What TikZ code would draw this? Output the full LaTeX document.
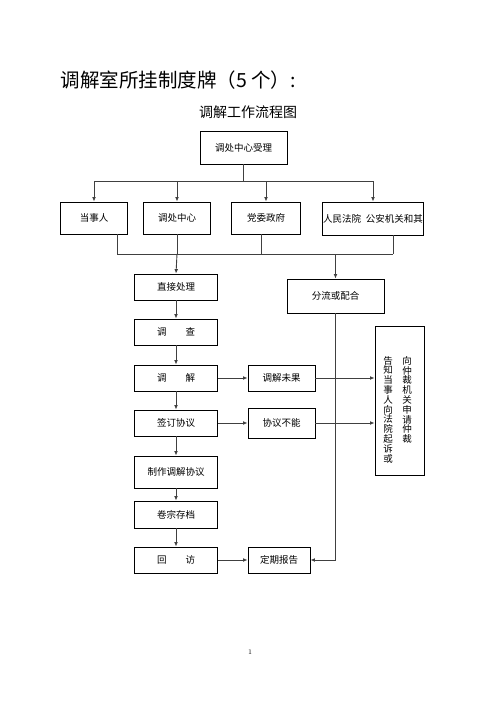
\documentclass[tikz,border=0pt]{standalone}
\usepackage{fontspec}
\newfontfamily\cjk{Noto Sans CJK SC}
\usetikzlibrary{positioning, calc, arrows.meta}

\begin{document}
\begin{tikzpicture}[x=1pt,y=-1pt,
        box/.style={draw, line width=0.8pt, inner sep=0pt,
                    font=\cjk\fontsize{9.5}{11}\selectfont},
        link/.style={draw=black!75, line width=0.9pt},
        arr/.style={link, -{Latex[length=4.5pt,width=3.8pt]}}]
        \useasboundingbox (0,0) rectangle (496,702);

        % Headings
        \node[anchor=west, font=\cjk\fontsize{19.5}{22}\selectfont] (title) at (57,80) {调解室所挂制度牌（5 个）:};
        \node[font=\cjk\fontsize{14}{16}\selectfont] (subtitle) at (248,112) {调解工作流程图};

        % Intake
        \node[box, minimum width=87, minimum height=33] (accept) at (243.5,147.5) {调处中心受理};

        % First row of sources
        \node[box, minimum width=67, minimum height=32] (party) at (94,218) {当事人};
        \node[box, minimum width=67, minimum height=32] (hub) at (177,218) {调处中心};
        \node[box, minimum width=69, minimum height=32] (gov) at (266,218) {党委政府};
        \node[box, minimum width=101, minimum height=33] (court) at (373,218.5) {人民法院\enspace 公安机关和其};

        % Fan out from intake
        \coordinate (topbus) at (243.5,181);
        \draw[link] (accept.south) -- (topbus);
        \draw[link] (party.north |- topbus) -- (court.north |- topbus);
        \foreach \n in {party, hub, gov, court}
            \draw[arr] (\n.north |- topbus) -- (\n.north);

        % Collect into the lower bus
        \coordinate (lowbus) at (0,254);
        \draw[link] ([xshift=23]party.south) -- ([xshift=23]party.south |- lowbus);
        \draw[link] (hub.south) -- (hub.south |- lowbus);
        \draw[link] ([xshift=-5]gov.south) -- ([xshift=-5]gov.south |- lowbus);
        \draw[link] ([xshift=20]court.south) -- ([xshift=20]court.south |- lowbus);
        \draw[link] ([xshift=23]party.south |- lowbus) -- ([xshift=20]court.south |- lowbus);

        % Main column
        \node[box, minimum width=83, minimum height=26] (direct) at (176,287) {直接处理};
        \node[box, minimum width=83, minimum height=26] (survey) at (176,332) {调\hspace{2em}查};
        \node[box, minimum width=83, minimum height=26] (mediate) at (176,378) {调\hspace{2em}解};
        \node[box, minimum width=83, minimum height=26] (sign) at (176,423) {签订协议};
        \node[box, minimum width=83, minimum height=32] (draft) at (176,472) {制作调解协议};
        \node[box, minimum width=83, minimum height=27] (archive) at (176,514.5) {卷宗存档};
        \node[box, minimum width=83, minimum height=26] (revisit) at (176,560) {回\hspace{2em}访};

        % Side column
        \node[box, minimum width=97, minimum height=34] (divert) at (335.5,296) {分流或配合};
        \node[box, minimum width=67, minimum height=26] (fail) at (281.5,378) {调解未果};
        \node[box, minimum width=67, minimum height=30] (unable) at (281.5,423) {协议不能};
        \node[box, minimum width=62, minimum height=26] (report) at (279,560) {定期报告};

        % Litigation or arbitration
        \node[box, minimum width=49, minimum height=149] (refer) at (399.5,400.5) {};
        \node[anchor=north, inner sep=0pt, align=center, font=\cjk\fontsize{9.5}{9.8}\selectfont]
            (refer-a) at (388,356) {告\\知\\当\\事\\人\\向\\法\\院\\起\\诉\\或};
        \node[anchor=north, inner sep=0pt, align=center, font=\cjk\fontsize{9.5}{9.8}\selectfont]
            (refer-b) at (407,356) {向\\仲\\裁\\机\\关\\申\\请\\仲\\裁};

        % Arrows into the two columns
        \draw[arr] (hub.south |- lowbus) -- (direct.north);
        \draw[arr] (divert.north |- lowbus) -- (divert.north);

        \draw[arr] (direct) -- (survey);
        \draw[arr] (survey) -- (mediate);
        \draw[arr] (mediate) -- (sign);
        \draw[arr] (sign) -- (draft);
        \draw[arr] (draft) -- (archive);
        \draw[arr] (archive) -- (revisit);

        \draw[arr] (mediate) -- (fail);
        \draw[arr] (fail.east) -- (fail.east -| refer.west);
        \draw[arr] (sign) -- (unable);
        \draw[arr] (unable.east) -- (unable.east -| refer.west);
        \draw[arr] (revisit) -- (report);
        \draw[arr] (divert.south) |- (report.east);

        % Page number
        \node[font=\fontsize{7}{8}\selectfont] (page) at (250,652) {1};

    \end{tikzpicture}
\end{document}
